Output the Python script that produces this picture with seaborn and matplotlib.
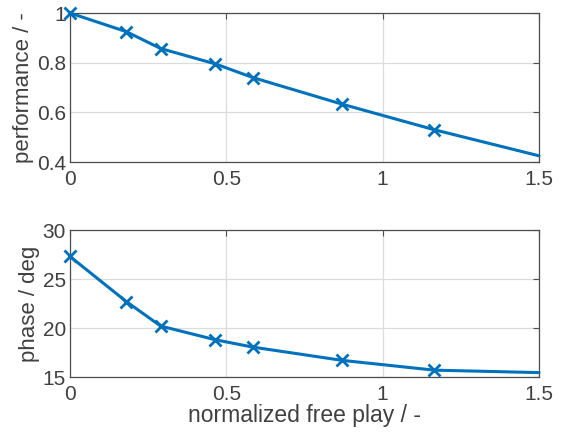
import numpy as np
import pandas as pd
import matplotlib
matplotlib.use("Agg")
import matplotlib.pyplot as plt
import seaborn as sns

free_play = [0.0, 0.18, 0.29, 0.465, 0.585, 0.87, 1.165, 1.5]
performance = [1.0, 0.925, 0.857, 0.795, 0.74, 0.633, 0.53, 0.425]
phase = [27.3, 22.7, 20.2, 18.8, 18.05, 16.7, 15.7, 15.45]
n_marked = 7  # last point is the line end, no marker

x_ticks = [0, 0.5, 1, 1.5]
x_labels = ["0", "0.5", "1", "1.5"]
perf_ticks = [0.4, 0.6, 0.8, 1.0]
perf_labels = ["0.4", "0.6", "0.8", "1"]
phase_ticks = [15, 20, 25, 30]

sns.set_style("white")
plt.rcParams["font.family"] = ["Liberation Sans", "DejaVu Sans"]
text_col = "#404040"
line_col = "#0072BD"

df = pd.DataFrame({"free_play": free_play, "performance": performance, "phase": phase})

fig = plt.figure(figsize=(5.61, 4.34), dpi=100)
ax1 = fig.add_axes([0.1248, 0.6267, 0.836, 0.3433])
ax2 = fig.add_axes([0.1248, 0.1313, 0.836, 0.3387])

for ax, col, ylim, yt, ylab in [
    (ax1, "performance", (0.4, 1.0), perf_ticks, "performance / -"),
    (ax2, "phase", (15, 30), phase_ticks, "phase / deg"),
]:
    sns.lineplot(data=df, x="free_play", y=col, ax=ax, color=line_col, linewidth=2.2,
                 marker="x", markersize=9, markeredgewidth=2, markeredgecolor=line_col,
                 markevery=list(range(n_marked)), clip_on=False, zorder=3)
    ax.set_xlim(0, 1.5)
    ax.set_ylim(*ylim)
    ax.set_xticks(x_ticks)
    ax.set_xticklabels(x_labels)
    ax.set_yticks(yt)
    if ax is ax1:
        ax.set_yticklabels(perf_labels)
    ax.grid(True, color="#dcdcdc", linewidth=0.9)
    ax.set_axisbelow(True)
    ax.tick_params(direction="in", length=4, width=0.8, top=True, right=True,
                   labelsize=15, colors="#4d4d4d", labelcolor=text_col, pad=3)
    ax.tick_params(axis="x", pad=6)
    for s in ax.spines.values():
        s.set_color("#4d4d4d")
        s.set_linewidth(0.9)
    ax.set_ylabel(ylab, fontsize=16, color=text_col, labelpad=2)
    ax.set_xlabel("")

ax2.set_xlabel("normalized free play / -", fontsize=16.5, color=text_col, labelpad=0)

fig.savefig("out.png", dpi=100)
